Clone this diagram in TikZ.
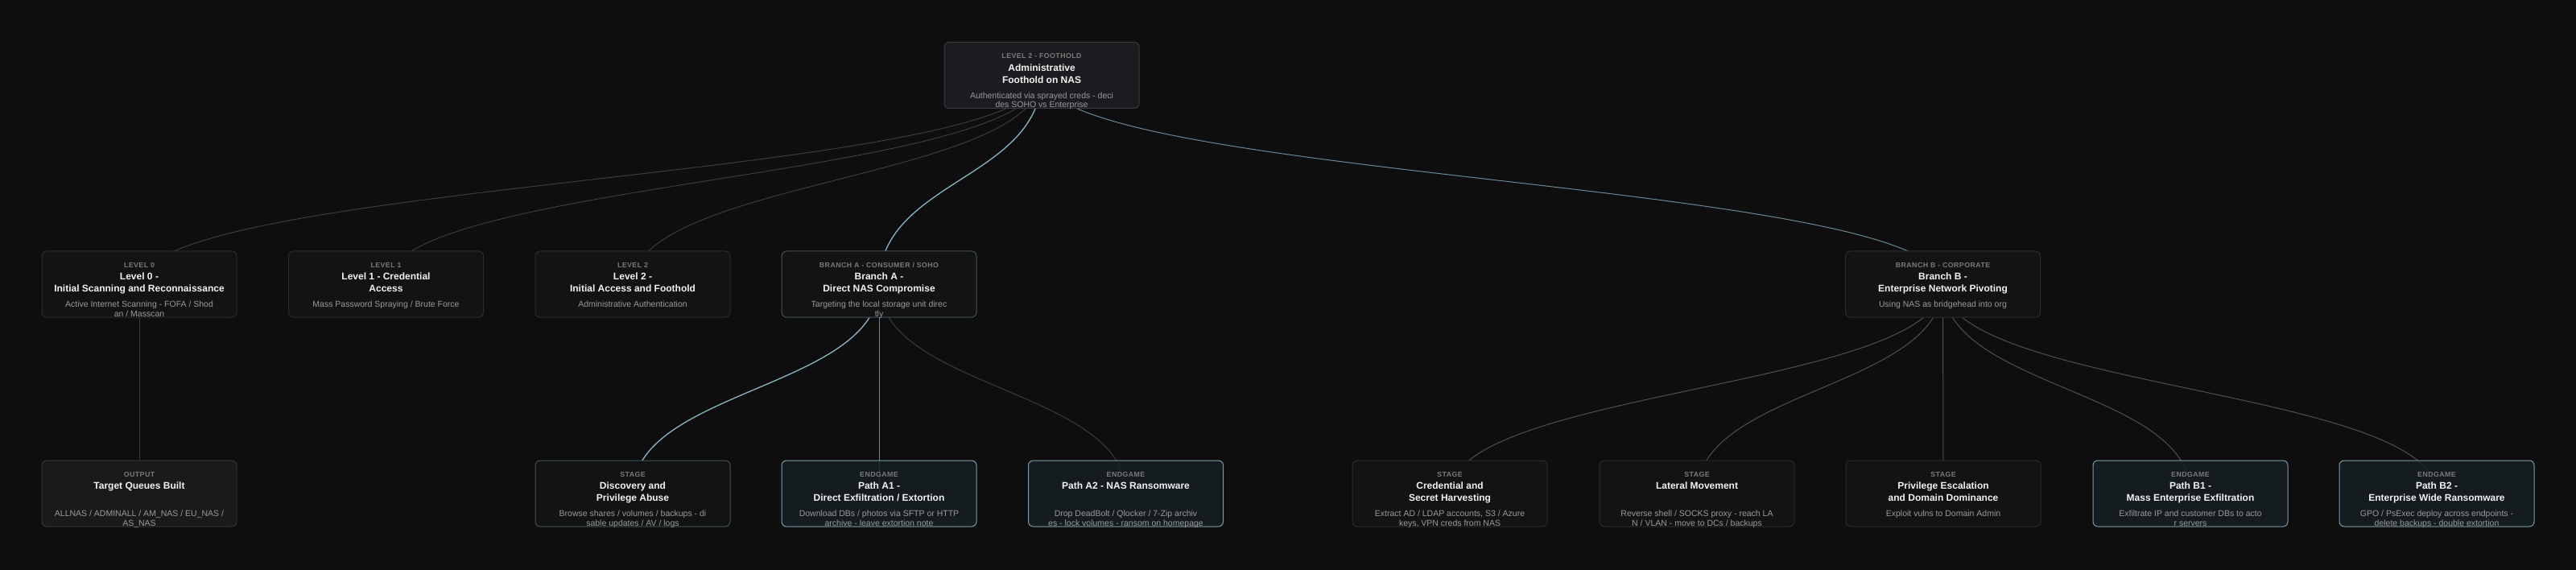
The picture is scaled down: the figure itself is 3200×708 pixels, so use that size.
\documentclass[tikz,border=0pt]{standalone}
\usepackage{fontspec}
\setmainfont{Liberation Sans}
\newfontfamily\lblfont[LetterSpace=5]{Liberation Sans}
\pgfdeclarelayer{bg}
\pgfdeclarelayer{links}
\pgfsetlayers{bg,links,main}
\definecolor{bgc}{HTML}{0E0E0E}
\definecolor{cardfill}{HTML}{131313}
\definecolor{cardline}{HTML}{2C2C2C}
\definecolor{rootfill}{HTML}{1C1C20}
\definecolor{rootline}{HTML}{3A3A40}
\definecolor{outfill}{HTML}{1A1A1D}
\definecolor{outline}{HTML}{34343A}
\definecolor{hotline}{HTML}{3F525B}
\definecolor{endfill}{HTML}{172023}
\definecolor{endline}{HTML}{7F9DAA}
\definecolor{lblc}{HTML}{7A7A7A}
\definecolor{ttlc}{HTML}{F2F2F2}
\definecolor{dscc}{HTML}{9A9A9A}
\definecolor{linkgray}{HTML}{3C3C3C}
\definecolor{linkmid}{HTML}{6E8794}
\definecolor{linkhot}{HTML}{8FB3C2}
\definecolor{linkdim}{HTML}{4C5256}

% one card: name, style, centre, label, title, description
\newcommand{\card}[6]{%
  \node[box,#2] (#1) at (#3) {};
  \node[lbl] (#1-l) at ([yshift=-21pt]#1.north) {#4};
  \node[ttl] (#1-t) at ([yshift=-27.4pt]#1.north) {#5};
  \node[dsc] (#1-d) at ([yshift=-62.5pt]#1.north) {#6};
}
% vertical link from centre to centre
\newcommand{\link}[3][]{%
  \path (#2.center) -- (#3.center) coordinate[midway] (mid);
  \draw[link,#1] (#2.center) .. controls (#2.center |- mid) and (#3.center |- mid) .. (#3.center);
}

\begin{document}
\begin{tikzpicture}[x=1pt,y=-1pt,
    box/.style={draw=cardline, fill=cardfill, rounded corners=6pt, line width=1pt,
      minimum width=242pt, minimum height=82pt, inner sep=0pt},
    rootbox/.style={draw=rootline, fill=rootfill},
    outbox/.style={draw=outline, fill=outfill},
    hotbox/.style={draw=hotline},
    endbox/.style={draw=endline, fill=endfill, fill opacity=0.82},
    lbl/.style={anchor=base, inner sep=0pt, text=lblc, font=\lblfont\fontsize{8.8}{10}\selectfont\bfseries},
    ttl/.style={anchor=north, inner sep=0pt, align=center, text=ttlc, font=\fontsize{12}{15}\selectfont\bfseries},
    dsc/.style={anchor=north, inner sep=0pt, align=center, text=dscc, font=\fontsize{10.5}{11.5}\selectfont},
    link/.style={draw=linkgray, line width=1pt},
    midlink/.style={draw=linkmid},
    hotlink/.style={draw=linkhot, line width=1.3pt},
    dimlink/.style={draw=linkdim}]

  \begin{pgfonlayer}{bg}
    \fill[bgc] (0,0) rectangle (3200,708);
  \end{pgfonlayer}

  % foothold
  \card{foot}{rootbox}{1294,93.5}{LEVEL 2 - FOOTHOLD}{Administrative\\Foothold on NAS}{Authenticated via sprayed creds - deci\\des SOHO vs Enterprise}

  % levels and branches
  \card{lvl0}{}{173,353}{LEVEL 0}{Level 0 -\\Initial Scanning and Reconnaissance}{Active Internet Scanning - FOFA / Shod\\an / Masscan}
  \card{lvl1}{}{479.5,353}{LEVEL 1}{Level 1 - Credential\\Access}{Mass Password Spraying / Brute Force}
  \card{lvl2}{}{786,353}{LEVEL 2}{Level 2 -\\Initial Access and Foothold}{Administrative Authentication}
  \card{bra}{hotbox}{1092,353}{BRANCH A - CONSUMER / SOHO}{Branch A -\\Direct NAS Compromise}{Targeting the local storage unit direc\\tly}
  \card{brb}{}{2413.5,353}{BRANCH B - CORPORATE}{Branch B -\\Enterprise Network Pivoting}{Using NAS as bridgehead into org}

  % bottom row
  \card{queues}{outbox}{173,613}{OUTPUT}{Target Queues Built}{ALLNAS / ADMINALL / AM\_NAS / EU\_NAS /\\AS\_NAS}
  \card{disc}{hotbox}{786,613}{STAGE}{Discovery and\\Privilege Abuse}{Browse shares / volumes / backups - di\\sable updates / AV / logs}
  \card{pa1}{endbox}{1092,613}{ENDGAME}{Path A1 -\\Direct Exfiltration / Extortion}{Download DBs / photos via SFTP or HTTP\\archive - leave extortion note}
  \card{pa2}{endbox}{1398.5,613}{ENDGAME}{Path A2 - NAS Ransomware}{Drop DeadBolt / Qlocker / 7-Zip archiv\\es - lock volumes - ransom on homepage}
  \card{cred}{}{1801,613}{STAGE}{Credential and\\Secret Harvesting}{Extract AD / LDAP accounts, S3 / Azure\\keys, VPN creds from NAS}
  \card{lat}{}{2108,613}{STAGE}{Lateral Movement}{Reverse shell / SOCKS proxy - reach LA\\N / VLAN - move to DCs / backups}
  \card{priv}{}{2414,613}{STAGE}{Privilege Escalation\\and Domain Dominance}{Exploit vulns to Domain Admin}
  \card{pb1}{endbox}{2721,613}{ENDGAME}{Path B1 -\\Mass Enterprise Exfiltration}{Exfiltrate IP and customer DBs to acto\\r servers}
  \card{pb2}{endbox}{3027,613}{ENDGAME}{Path B2 -\\Enterprise Wide Ransomware}{GPO / PsExec deploy across endpoints -\\delete backups - double extortion}

  \begin{pgfonlayer}{links}
    \foreach \n in {lvl0,lvl1,lvl2} {\link{foot}{\n}}
    \link[hotlink]{foot}{bra}
    \link[midlink]{foot}{brb}
    \link{lvl0}{queues}
    \link[hotlink]{bra}{disc}
    \link[midlink]{bra}{pa1}
    \link{bra}{pa2}
    \foreach \n in {cred,lat,priv,pb1,pb2} {\link[dimlink]{brb}{\n}}
  \end{pgfonlayer}
\end{tikzpicture}
\end{document}
